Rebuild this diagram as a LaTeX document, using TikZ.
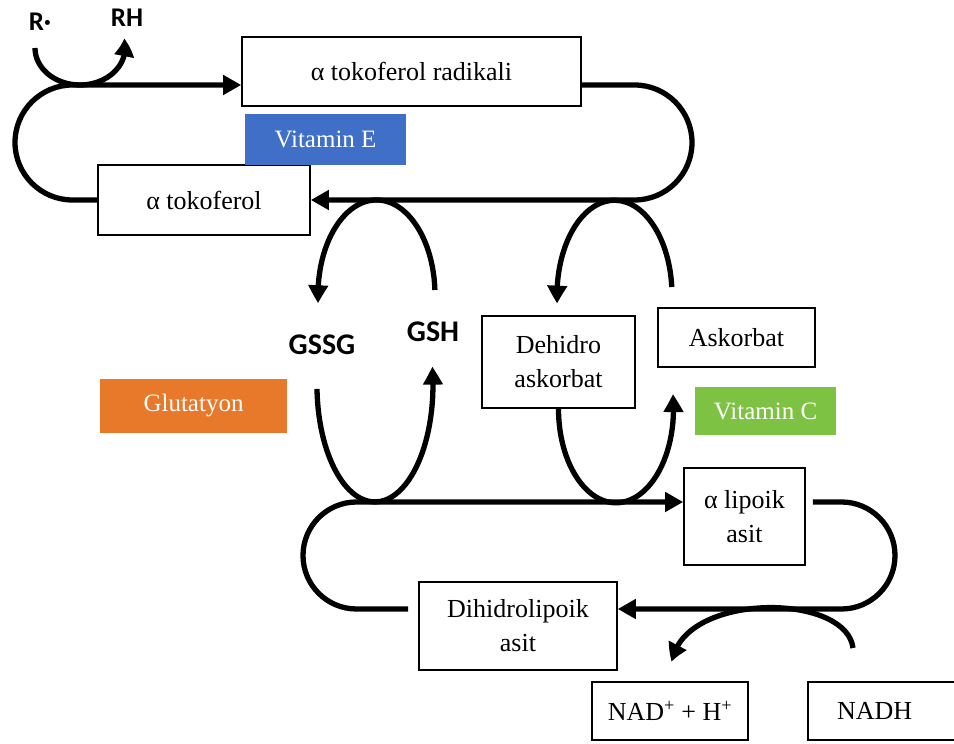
\documentclass[tikz,border=0pt]{standalone}
\usepackage{fontspec}
\setmainfont{Liberation Serif}
\newfontfamily\carl{Carlito}
\usetikzlibrary{arrows.meta,bending}
\definecolor{vblue}{HTML}{3F6FC6}
\definecolor{vorange}{HTML}{E8782A}
\definecolor{vgreen}{HTML}{7DC242}
\begin{document}
\begin{tikzpicture}[x=1pt,y=1pt,
  box/.style={draw, line width=1.6pt, inner sep=0pt, align=center, font=\fontsize{26}{34}\selectfont},
  lab/.style={inner sep=0pt, text=white, font=\fontsize{25}{30}\selectfont},
  chem/.style={inner sep=0pt, font=\carl\bfseries\fontsize{30}{36}\selectfont},
  conn/.style={line width=5.3pt},
  tip/.style={-{Triangle[length=18pt,width=19pt,bend]}}]
\useasboundingbox (0,0) rectangle (954,744);
\fill[white] (0,0) rectangle (954,744);

% boxes
\node[box, minimum width=339pt, minimum height=69pt] (rad) at (411.5,672.5) {α tokoferol radikali};
\node[box, minimum width=212pt, minimum height=70pt] (tok) at (204,544) {α tokoferol};
\node[box, minimum width=153pt, minimum height=92pt] (deh) at (558.5,382) {Dehidro\\askorbat};
\node[box, minimum width=157pt, minimum height=59pt] (ask) at (736.5,406.5) {Askorbat};
\node[box, minimum width=121pt, minimum height=97pt] (lip) at (744.5,227.5) {α lipoik\\asit};
\node[box, minimum width=198pt, minimum height=88pt] (dih) at (518,118) {Dihidrolipoik\\asit};
\node[box, minimum width=156pt, minimum height=58pt] (nad) at (670,33) {NAD\textsuperscript{+} + H\textsuperscript{+}};
\node[box, minimum width=160pt, minimum height=58pt, text width=146pt, align=left] (nadh) at (888,33) {\hspace*{22pt}NADH};

% coloured labels
\node[lab, fill=vblue, minimum width=161pt, minimum height=51pt] (vite) at (325.5,604.5) {Vitamin E};
\node[lab, fill=vorange, minimum width=187pt, minimum height=54pt] (glu) at (193.5,338) {Glutatyon};
\node[lab, fill=vgreen, minimum width=141pt, minimum height=48pt] (vitc) at (765.5,333) {Vitamin C};

% chemical labels
\node[chem, font=\carl\bfseries\fontsize{27}{30}\selectfont] (r) at (40,722) {R·};
\node[chem, font=\carl\bfseries\fontsize{27}{30}\selectfont] (rh) at (127,726) {RH};
\node[chem] (gssg) at (322,399) {GSSG};
\node[chem] (gsh) at (433,412) {GSH};

% free ends
\coordinate (rstart) at (35,696);
\coordinate (gshtop) at (434.9,454);
\coordinate (gssgbot) at (317,355);
\coordinate (asktop) at (671.8,457);
\coordinate (nadhstart) at (853,96);

% vitamin E loop
\draw[conn,tip] ([yshift=-13.5pt]rad.east) -- (634.5,659) arc[start angle=90,end angle=-90,radius=57.5] -- (tok.east);
\draw[conn,tip] (tok.west) -- (72.5,544) arc[start angle=270,end angle=90,radius=57.5] -- ([yshift=-13.5pt]rad.west);
\draw[conn,tip] (rstart) arc[start angle=180,end angle=375,x radius=45,y radius=37];

% glutathione loops
\draw[conn,tip] (gshtop) arc[start angle=3,end angle=185,x radius=58.5,y radius=95];
\draw[conn,tip] (gssgbot) arc[start angle=182,end angle=369,x radius=58,y radius=117];

% ascorbate loops
\draw[conn,tip] (asktop) arc[start angle=5,end angle=185,x radius=57.5,y radius=95];
\draw[conn,tip] (deh.south) arc[start angle=180,end angle=369,x radius=57.5,y radius=94];

% lipoic loop
\draw[conn,tip,shorten <=10pt] ([yshift=17pt]dih.west) -- (356.5,135) arc[start angle=270,end angle=90,radius=53.5] -- ([yshift=14.5pt]lip.west);
\draw[conn,tip,shorten <=7pt] ([yshift=14.5pt]lip.east) -- (841.5,242) arc[start angle=90,end angle=-90,radius=53.5] -- ([yshift=17pt]dih.east);

% NADH arc
\draw[conn,tip] (nadhstart) .. controls (846,152) and (682,152) .. (672,82);
\end{tikzpicture}
\end{document}
